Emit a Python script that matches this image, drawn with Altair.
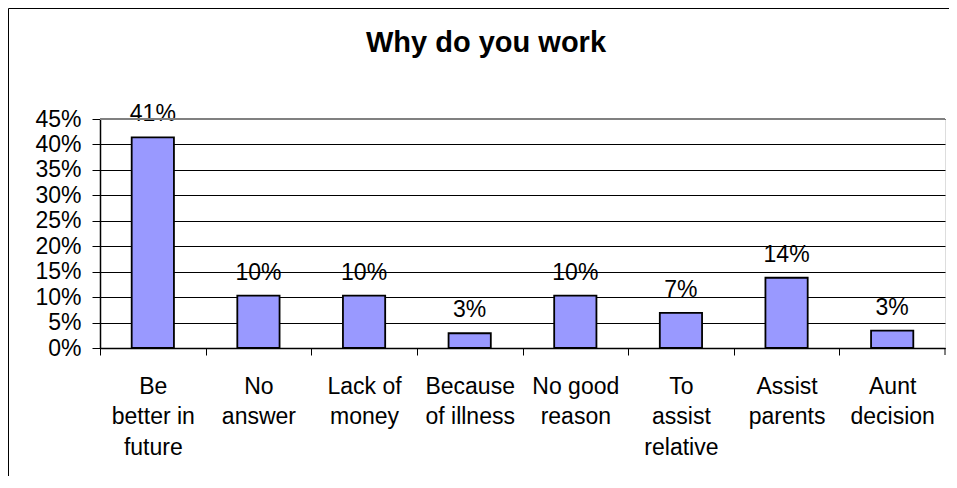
import altair as alt
import pandas as pd

categories = [
    "Be|better in|future",
    "No|answer",
    "Lack of|money",
    "Because|of illness",
    "No good|reason",
    "To|assist|relative",
    "Assist|parents",
    "Aunt|decision",
]
shares = [0.414, 0.103, 0.103, 0.029, 0.103, 0.069, 0.138, 0.034]
y_ticks = [0, 0.05, 0.10, 0.15, 0.20, 0.25, 0.30, 0.35, 0.40, 0.45]
chart_title = "Why do you work"

df = pd.DataFrame({"category": categories, "share": shares})

FONT = "Liberation Sans"
W, H = 845, 229
STEP = W / len(categories)

x_enc = alt.X(
    "category:N",
    sort=categories,
    title=None,
    scale=alt.Scale(paddingInner=0.6, paddingOuter=0.3),
    axis=alt.Axis(
        labelExpr="split(datum.value, '|')",
        labelAngle=0,
        labelAlign="center",
        labelBaseline="top",
        labelFont=FONT,
        labelFontSize=23,
        labelColor="black",
        labelLineHeight=30.5,
        labelPadding=20,
        labelOverlap=False,
        tickOffset=-STEP / 2,
        labelOffset=STEP / 2,
        tickSize=7,
        tickColor="black",
        domainColor="black",
        domainWidth=1.5,
        grid=False,
    ),
)

y_enc = alt.Y(
    "share:Q",
    title=None,
    scale=alt.Scale(domain=[0, 0.45], nice=False),
    axis=alt.Axis(
        values=y_ticks,
        format=".0%",
        labelFont=FONT,
        labelFontSize=23,
        labelColor="black",
        labelPadding=11,
        labelOverlap=False,
        labelFlush=False,
        tickSize=8,
        tickColor="black",
        domainColor="black",
        domainWidth=1.5,
        grid=True,
        gridColor="black",
        gridWidth=1,
    ),
)

base = alt.Chart(df)

bars = base.mark_bar(fill="#9999FF", stroke="black", strokeWidth=1.8).encode(x=x_enc, y=y_enc)

labels = base.mark_text(
    font=FONT, fontSize=23, color="black", baseline="alphabetic", dy=-16
).encode(x=x_enc, y=y_enc, text=alt.Text("share:Q", format=".0%"))

one = pd.DataFrame({"k": [0]})

frame_left = alt.Chart(one).mark_rule(color="black", strokeWidth=1).encode(
    x=alt.value(-91.5), y=alt.value(-110.5), y2=alt.value(H + 140)
)
frame_top = alt.Chart(one).mark_rule(color="black", strokeWidth=1).encode(
    x=alt.value(-91.5), x2=alt.value(W + 4), y=alt.value(-110.5)
)

top_border = alt.Chart(one).mark_rule(color="#808080", strokeWidth=2).encode(
    x=alt.value(0), x2=alt.value(W), y=alt.value(0)
)

end_tick = alt.Chart(one).mark_rule(color="black", strokeWidth=1).encode(
    x=alt.value(W), y=alt.value(H), y2=alt.value(H + 7)
)

title = alt.Chart(one).mark_text(
    font=FONT, fontSize=29, fontWeight="bold", color="black", baseline="alphabetic", align="center"
).encode(x=alt.value(386), y=alt.value(-67), text=alt.value(chart_title))

chart = (
    alt.layer(frame_left, frame_top, bars, labels, top_border, end_tick, title)
    .properties(
        width=W,
        height=H,
        padding={"left": 92, "top": 111, "right": 4, "bottom": 128},
        autosize=alt.AutoSizeParams(type="none"),
    )
    .configure_view(stroke="#808080", strokeWidth=2)
    .configure(background="white")
)

chart.save("out.html", embed_options={"renderer": "svg", "actions": False})
